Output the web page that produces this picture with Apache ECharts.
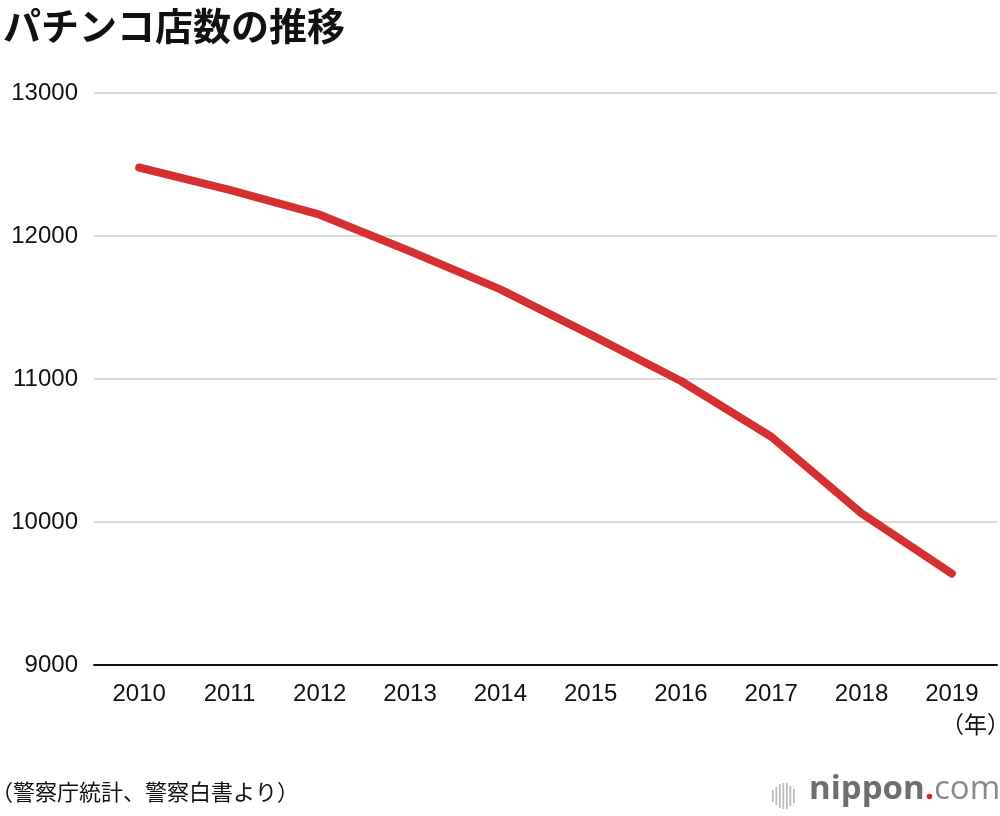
<!DOCTYPE html>
<html><head><meta charset="utf-8">
<script src="https://cdn.jsdelivr.net/npm/echarts@6/dist/echarts.min.js"></script>
<style>html,body{margin:0;padding:0;background:#fff}#c{width:1000px;height:816px}</style>
</head><body><div id="c"></div>
<script>
const years = ['2010','2011','2012','2013','2014','2015','2016','2017','2018','2019'];
const stores = [12479, 12323, 12149, 11893, 11627, 11310, 10986, 10596, 10060, 9639];
const yTicks = [9000, 10000, 11000, 12000, 13000];

const chart = echarts.init(document.getElementById('c'), null, {renderer:'canvas'});
const jp = '"Noto Sans CJK JP", sans-serif';
const latin = '"Liberation Sans", Arial, sans-serif';
const bars = [];
const barH = [12, 18, 24, 26, 26, 20, 14];
barH.forEach((h, i) => {
  bars.push({type:'rect', left: 772 + i*3.5, top: 796 - h/2, shape:{width:1.7, height:h}, style:{fill:'#b8b8b8'}});
});
chart.setOption({
  animation:false,
  title:{text:'パチンコ店数の推移', left:-2, top:2, textStyle:{fontFamily:jp, fontSize:38, fontWeight:'bold', color:'#111'}},
  grid:{left:94, right:3, top:93, bottom:151},
  xAxis:{type:'category', data:years, boundaryGap:true,
    axisLine:{lineStyle:{color:'#111', width:2}}, axisTick:{show:false},
    axisLabel:{fontFamily:latin, fontSize:24, color:'#111', margin:17}},
  yAxis:{type:'value', min:yTicks[0], max:yTicks[yTicks.length-1], interval:1000,
    axisLine:{show:false}, axisTick:{show:false},
    splitLine:{lineStyle:{color:'#cccccc', width:1.5}},
    axisLabel:{fontFamily:latin, fontSize:24, color:'#111', margin:16, formatter: v => String(v)}},
  series:[{type:'line', data:stores, symbol:'none', smooth:false,
    lineStyle:{color:'#d63132', width:8, cap:'round', join:'round'}}],
  graphic:[
    {type:'text', right:-10, top:713, style:{text:'（年）', font:'23px '+jp, fill:'#111'}},
    {type:'text', left:-9, top:781, style:{text:'（警察庁統計、警察白書より）', font:'22px '+jp, fill:'#111'}},
    ...bars,
    {type:'text', left:809, top:773, style:{
      text:'{a|nippon}{b|.}{c|com}',
      rich:{a:{fontFamily:'"Open Sans", sans-serif', fontSize:33, fontWeight:'bold', fill:'#6e6e6e'},
            b:{fontFamily:'"Open Sans", sans-serif', fontSize:33, fontWeight:'bold', fill:'#e02020'},
            c:{fontFamily:'"Open Sans", sans-serif', fontSize:33, fontWeight:'normal', fill:'#8a8a8a'}}}}
  ]
});
</script></body></html>
